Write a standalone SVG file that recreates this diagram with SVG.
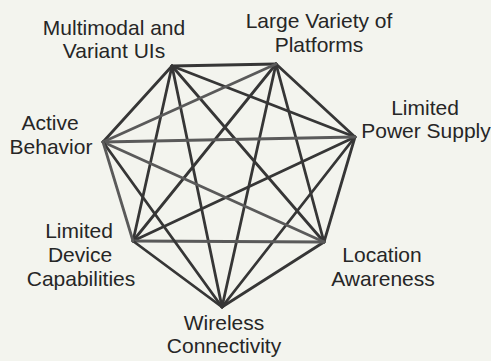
<svg xmlns="http://www.w3.org/2000/svg" width="491" height="361" viewBox="0 0 491 361">
<style>
.bg{fill:#f3f4ee}
.lbl{font-family:"Liberation Sans",Arial,sans-serif;font-size:21px;fill:#262626;text-anchor:middle}
#edges line{stroke:#363636;stroke-width:2.8;stroke-linecap:round}
#edges line.lt{stroke:#5a5a5a}
</style>
<rect class="bg" x="0" y="0" width="491" height="361"/>
<g id="edges">
<line x1="172" y1="66" x2="276" y2="64"/>
<line x1="172" y1="66" x2="355" y2="137"/>
<line x1="172" y1="66" x2="324" y2="242"/>
<line x1="172" y1="66" x2="222" y2="307"/>
<line x1="172" y1="66" x2="133" y2="241"/>
<line x1="172" y1="66" x2="103" y2="142"/>
<line x1="276" y1="64" x2="355" y2="137"/>
<line x1="276" y1="64" x2="324" y2="242"/>
<line x1="276" y1="64" x2="222" y2="307"/>
<line x1="276" y1="64" x2="133" y2="241"/>
<line class="lt" x1="276" y1="64" x2="103" y2="142"/>
<line x1="355" y1="137" x2="324" y2="242"/>
<line x1="355" y1="137" x2="222" y2="307"/>
<line x1="355" y1="137" x2="133" y2="241"/>
<line class="lt" x1="355" y1="137" x2="103" y2="142"/>
<line x1="324" y1="242" x2="222" y2="307"/>
<line class="lt" x1="324" y1="242" x2="133" y2="241"/>
<line class="lt" x1="324" y1="242" x2="103" y2="142"/>
<line x1="222" y1="307" x2="133" y2="241"/>
<line x1="222" y1="307" x2="103" y2="142"/>
<line class="lt" x1="133" y1="241" x2="103" y2="142"/>
</g>
<g id="n-multimodal"><text class="lbl" x="114" y="35">Multimodal and</text><text class="lbl" x="114" y="58">Variant UIs</text></g>
<g id="n-platforms"><text class="lbl" x="319" y="28">Large Variety of</text><text class="lbl" x="319" y="52">Platforms</text></g>
<g id="n-power"><text class="lbl" x="425" y="115">Limited</text><text class="lbl" x="426" y="138">Power Supply</text></g>
<g id="n-location"><text class="lbl" x="382" y="262">Location</text><text class="lbl" x="383" y="286">Awareness</text></g>
<g id="n-wireless"><text class="lbl" x="224" y="330">Wireless</text><text class="lbl" x="224" y="353">Connectivity</text></g>
<g id="n-device"><text class="lbl" x="79" y="238">Limited</text><text class="lbl" x="80" y="262">Device</text><text class="lbl" x="81" y="286">Capabilities</text></g>
<g id="n-active"><text class="lbl" x="50" y="130">Active</text><text class="lbl" x="51" y="154">Behavior</text></g>
</svg>
